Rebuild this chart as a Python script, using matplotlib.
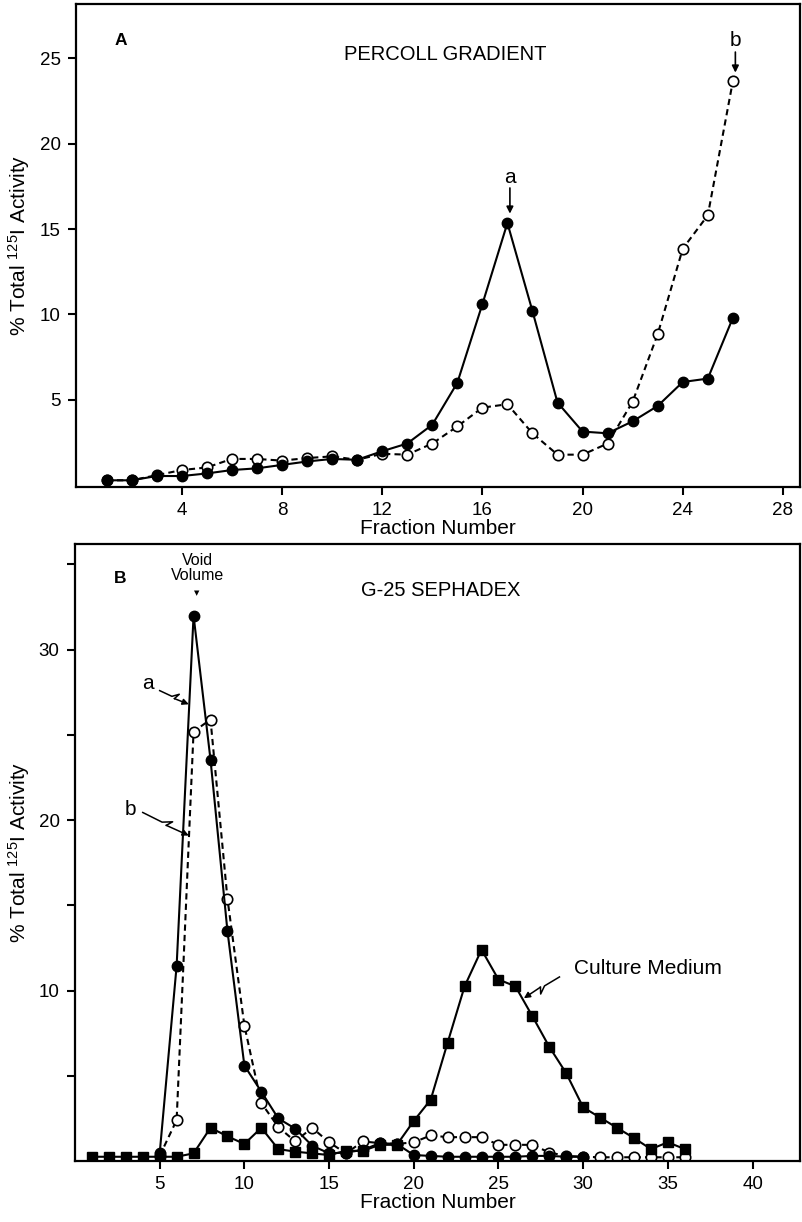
import numpy as np
import matplotlib.pyplot as plt

plt.rcParams["font.family"] = ["Liberation Sans", "DejaVu Sans"]
plt.rcParams["mathtext.fontset"] = "custom"
plt.rcParams["mathtext.rm"] = "Liberation Sans"
plt.rcParams["mathtext.it"] = "Liberation Sans:italic"
plt.rcParams["mathtext.bf"] = "Liberation Sans:bold"

# Panel A: Percoll gradient
frac_a = np.arange(1, 27)
a_filled = [0.3, 0.3, 0.55, 0.55, 0.7, 0.9, 1.0, 1.2, 1.4, 1.55, 1.5, 2.0, 2.45,
            3.55, 6.0, 10.6, 15.35, 10.2, 4.85, 3.15, 3.05, 3.75, 4.65, 6.05, 6.25, 9.8]
a_open = [0.3, 0.3, 0.6, 0.9, 1.05, 1.55, 1.55, 1.45, 1.6, 1.7, 1.5, 1.85, 1.8,
          2.45, 3.45, 4.55, 4.75, 3.05, 1.8, 1.8, 2.45, 4.9, 8.85, 13.85, 15.8, 23.65]
a_xticks = [4, 8, 12, 16, 20, 24, 28]
a_yticks = [5, 10, 15, 20, 25]

# Panel B: G-25 Sephadex
frac_b_square = np.arange(1, 37)
b_square = [0.25, 0.25, 0.25, 0.25, 0.25, 0.25, 0.45, 1.95, 1.45, 1.0, 1.95, 0.7,
            0.55, 0.45, 0.35, 0.6, 0.6, 0.95, 0.95, 2.35, 3.6, 6.95, 10.25, 12.4,
            10.65, 10.25, 8.5, 6.7, 5.15, 3.15, 2.55, 1.95, 1.35, 0.7, 1.1, 0.7]
frac_b_filled = np.arange(5, 31)
b_filled = [0.45, 11.45, 32.0, 23.55, 13.5, 5.6, 4.07, 2.5, 1.9, 0.9, 0.45, 0.5,
            0.65, 1.05, 1.0, 0.35, 0.3, 0.25, 0.25, 0.25, 0.25, 0.25, 0.3, 0.3, 0.25, 0.25]
frac_b_open = np.arange(5, 37)
b_open = [0.3, 2.4, 25.2, 25.9, 15.4, 7.95, 3.4, 2.0, 1.15, 1.95, 1.1, 0.45,
          1.15, 1.05, 1.0, 1.1, 1.5, 1.4, 1.4, 1.4, 0.95, 0.95, 0.95, 0.5, 0.3,
          0.25, 0.22, 0.22, 0.22, 0.22, 0.22, 0.22]
b_xticks = [5, 10, 15, 20, 25, 30, 35, 40]
b_yticks = [10, 20, 30]
b_yminor = [5, 15, 25, 35]

YLABEL = "% Total $^{125}$I Activity"
LW = 1.5
MS = 7.5


def style_axes(ax):
    for sp in ax.spines.values():
        sp.set_linewidth(1.6)
    ax.tick_params(which="both", direction="out", length=6, width=1.5,
                   labelsize=13.5, pad=5)


def zigzag_arrow(ax, start, end):
    # straight stroke with a small lightning kink, ending in an arrow head
    to_px = ax.transData.transform
    p0, p1 = to_px(start), to_px(end)
    d = p1 - p0
    length = np.hypot(*d)
    u = d / length
    n = np.array([-u[1], u[0]])
    kink = np.array([p0,
                     p0 + u * length * 0.42,
                     p0 + u * length * 0.60 + n * 5,
                     p0 + u * length * 0.52 - n * 1])
    pts = ax.transData.inverted().transform(kink)
    ax.plot(pts[:, 0], pts[:, 1], color="black", lw=1.1, clip_on=False)
    ax.annotate("", xy=end, xytext=pts[-1],
                arrowprops=dict(arrowstyle="-|>", lw=1.1, color="black",
                                mutation_scale=9, shrinkA=0, shrinkB=0))


fig = plt.figure(figsize=(8.02, 12.22), dpi=100)

# ---- Panel A
ax = fig.add_axes([0.0948, 0.6015, 0.9027, 0.3952])
ax.plot(frac_a, a_open, color="black", lw=LW, ls=(0, (3, 2)), marker="o",
        ms=MS, mfc="white", mec="black", mew=1.2)
ax.plot(frac_a, a_filled, color="black", lw=LW, marker="o", ms=MS,
        mfc="black", mec="black")
ax.set_xlim(-0.22, 28.68)
ax.set_ylim(-0.09, 28.16)
ax.set_xticks(a_xticks)
ax.set_yticks(a_yticks)
style_axes(ax)
ax.set_xlabel("Fraction Number", fontsize=15, labelpad=0)
ax.set_ylabel(YLABEL, fontsize=15)
ax.yaxis.set_label_coords(-0.061, 0.5)

ax.text(1.3, 26.05, "A", fontsize=12.5, fontweight="bold", va="center")
ax.text(14.5, 25.2, "PERCOLL GRADIENT", fontsize=14.5, ha="center", va="center")
ax.text(17.1, 18.0, "a", fontsize=15, ha="center", va="center")
ax.annotate("", xy=(17.1, 15.9), xytext=(17.1, 17.4),
            arrowprops=dict(arrowstyle="-|>", lw=1.2, color="black",
                            mutation_scale=10, shrinkA=0, shrinkB=0))
ax.text(26.1, 26.05, "b", fontsize=15, ha="center", va="center")
ax.annotate("", xy=(26.1, 24.15), xytext=(26.1, 25.35),
            arrowprops=dict(arrowstyle="-|>", lw=1.2, color="black",
                            mutation_scale=10, shrinkA=0, shrinkB=0))

# ---- Panel B
bx = fig.add_axes([0.0935, 0.0499, 0.904, 0.5049])
bx.plot(frac_b_open, b_open, color="black", lw=LW, ls=(0, (3, 2)), marker="o",
        ms=MS, mfc="white", mec="black", mew=1.2)
bx.plot(frac_b_square, b_square, color="black", lw=LW, marker="s", ms=MS - 0.5,
        mfc="black", mec="black")
bx.plot(frac_b_filled, b_filled, color="black", lw=LW, marker="o", ms=MS,
        mfc="black", mec="black")
bx.set_xlim(0, 42.8)
bx.set_ylim(0, 36.2)
bx.set_xticks(b_xticks)
bx.set_yticks(b_yticks)
bx.set_yticks(b_yminor, minor=True)
style_axes(bx)
bx.set_xlabel("Fraction Number", fontsize=15, labelpad=0)
bx.set_ylabel(YLABEL, fontsize=15)
bx.yaxis.set_label_coords(-0.0595, 0.5)

bx.text(2.3, 34.2, "B", fontsize=12.5, fontweight="bold", va="center")
bx.text(7.25, 34.8, "Void\nVolume", fontsize=11.5, ha="center", va="center",
        linespacing=1.0)
bx.text(7.2, 33.3, "\u25bc", fontsize=5, ha="center", va="center",
        family="DejaVu Sans")
bx.text(21.6, 33.5, "G-25 SEPHADEX", fontsize=14.5, ha="center", va="center")
bx.text(4.3, 28.0, "a", fontsize=15, ha="center", va="center")
bx.text(3.25, 20.6, "b", fontsize=15, ha="center", va="center")
bx.text(33.8, 11.3, "Culture Medium", fontsize=15, ha="center", va="center")
zigzag_arrow(bx, (5.0, 27.6), (6.72, 26.8))
zigzag_arrow(bx, (4.0, 20.45), (6.72, 19.1))
zigzag_arrow(bx, (28.6, 10.8), (26.5, 9.55))

fig.savefig("out.png", dpi=100)
